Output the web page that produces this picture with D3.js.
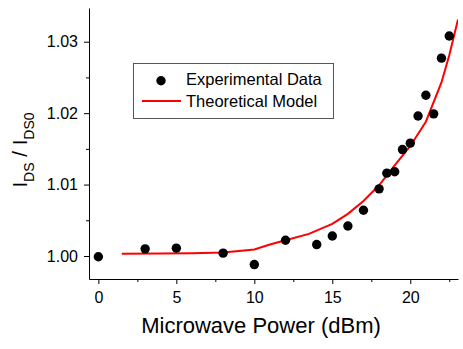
<!DOCTYPE html>
<html>
<head>
<meta charset="utf-8">
<script src="https://cdn.jsdelivr.net/npm/d3@7"></script>
<style>
  body { margin: 0; background: #fff; }
  svg { display: block; font-family: "Liberation Sans", Arial, sans-serif; }
  .axis path, .axis line { stroke: #000; stroke-width: 1; }
  .axis text { fill: #000; font-size: 16px; }
</style>
</head>
<body>
<svg id="chart" width="463" height="349"></svg>
<script>
// measured points
const powerDbm = [0, 3, 5, 8, 10, 12, 14, 15, 16, 17, 18, 18.5, 19, 19.5, 20, 20.5, 21, 21.5, 22, 22.5];
const currentRatio = [0.9999, 1.0010, 1.0011, 1.0004, 0.9988, 1.0022, 1.0016, 1.0028, 1.0042, 1.0064,
    1.0094, 1.0116, 1.0118, 1.0149, 1.0158, 1.0196, 1.0225, 1.0199, 1.0277, 1.0308];

// model curve
const modelPower = [1.5, 4, 6, 8, 10, 11, 12, 13.5, 15, 16, 17, 18, 19, 20, 21, 22, 22.5, 23.06];
const modelRatio = [1.0003, 1.00035, 1.0004, 1.0005, 1.0009, 1.0016, 1.0022, 1.0031, 1.0045, 1.0059,
    1.0077, 1.0099, 1.0127, 1.0154, 1.0188, 1.0243, 1.0281, 1.0331];

const xTicks = [0, 5, 10, 15, 20];
const xMinorTicks = [2.5, 7.5, 12.5, 17.5, 22.5];
const yTicks = [1.00, 1.01, 1.02, 1.03];
const yMinorTicks = [1.005, 1.015, 1.025];

const margin = { top: 8, right: 5, bottom: 70, left: 89 };
const width = 463, height = 349;

const svg = d3.select('#chart');

const xScale = d3.scaleLinear()
    .domain([-0.6, 23.06])
    .range([margin.left, width - margin.right]);

const yScale = d3.scaleLinear()
    .domain([0.99678, 1.03472])
    .range([height - margin.bottom, margin.top]);

svg.append('defs').append('clipPath')
    .attr('id', 'plot-clip')
    .append('rect')
    .attr('x', margin.left)
    .attr('y', margin.top)
    .attr('width', width - margin.right - margin.left)
    .attr('height', height - margin.bottom - margin.top);

// x axis
svg.append('g')
    .attr('class', 'axis')
    .attr('transform', `translate(0, ${height - margin.bottom})`)
    .call(d3.axisBottom(xScale).tickValues(xTicks).tickSize(5).tickPadding(8).tickSizeOuter(0).tickFormat(d3.format('d')));

svg.append('g')
    .attr('class', 'axis')
    .attr('transform', `translate(0, ${height - margin.bottom})`)
    .call(d3.axisBottom(xScale).tickValues(xMinorTicks).tickSize(3).tickSizeOuter(0).tickFormat(''))
    .select('.domain').remove();

// y axis
svg.append('g')
    .attr('class', 'axis')
    .attr('transform', `translate(${margin.left}, 0)`)
    .call(d3.axisLeft(yScale).tickValues(yTicks).tickSize(5).tickPadding(6).tickSizeOuter(0).tickFormat(d3.format('.2f')));

svg.append('g')
    .attr('class', 'axis')
    .attr('transform', `translate(${margin.left}, 0)`)
    .call(d3.axisLeft(yScale).tickValues(yMinorTicks).tickSize(3).tickSizeOuter(0).tickFormat(''))
    .select('.domain').remove();

// axis labels
svg.append('text')
    .attr('x', 261)
    .attr('y', 333)
    .attr('text-anchor', 'middle')
    .style('font-size', '22px')
    .text('Microwave Power (dBm)');

const yLabel = svg.append('text')
    .attr('transform', 'translate(27, 150) rotate(-90)')
    .attr('text-anchor', 'middle')
    .style('font-size', '20.5px');
yLabel.append('tspan').text('I');
yLabel.append('tspan').attr('dy', 7).style('font-size', '14px').text('DS');
yLabel.append('tspan').attr('dy', -7).text(' / I');
yLabel.append('tspan').attr('dy', 7).style('font-size', '14px').text('DS0');

// model line
const line = d3.line()
    .x((d, i) => xScale(modelPower[i]))
    .y(d => yScale(d));

svg.append('path')
    .datum(modelRatio)
    .attr('clip-path', 'url(#plot-clip)')
    .attr('d', line)
    .attr('fill', 'none')
    .attr('stroke', '#ff0000')
    .attr('stroke-width', 2);

// experimental points
svg.append('g')
    .selectAll('circle')
    .data(currentRatio)
    .join('circle')
    .attr('cx', (d, i) => xScale(powerDbm[i]))
    .attr('cy', d => yScale(d))
    .attr('r', 4.7)
    .attr('fill', '#000');

// legend
const legend = svg.append('g');
legend.append('rect')
    .attr('x', 133.5)
    .attr('y', 63.5)
    .attr('width', 200)
    .attr('height', 55)
    .attr('fill', '#fff')
    .attr('stroke', '#555')
    .attr('stroke-width', 1);
legend.append('circle')
    .attr('cx', 161)
    .attr('cy', 80.7)
    .attr('r', 4.7)
    .attr('fill', '#000');
legend.append('line')
    .attr('x1', 142).attr('x2', 181)
    .attr('y1', 101).attr('y2', 101)
    .attr('stroke', '#ff0000')
    .attr('stroke-width', 2);
legend.append('text')
    .attr('x', 186).attr('y', 85)
    .style('font-size', '16.5px')
    .text('Experimental Data');
legend.append('text')
    .attr('x', 186).attr('y', 106.7)
    .style('font-size', '16.5px')
    .text('Theoretical Model');
</script>
</body>
</html>
